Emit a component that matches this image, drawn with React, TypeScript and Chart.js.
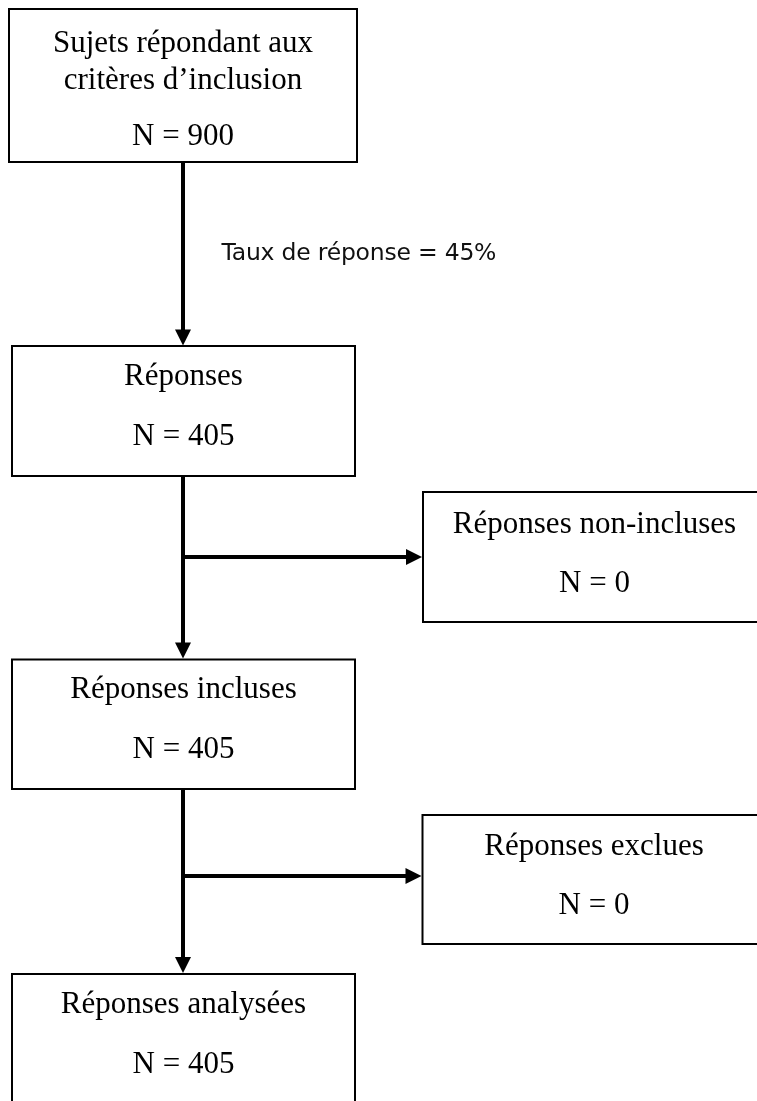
import React, { useEffect, useRef } from "react";
import { Chart, registerables } from "chart.js";

Chart.register(...registerables);

// ---- Data ----
const STEP_LABELS: string[][] = [
  ["Sujets répondant aux", "critères d’inclusion"],
  ["Réponses"],
  ["Réponses non-incluses"],
  ["Réponses incluses"],
  ["Réponses exclues"],
  ["Réponses analysées"],
];
const STEP_N: number[] = [900, 405, 0, 405, 0, 405];
const RESPONSE_RATE_LABEL = "Taux de réponse";
const RESPONSE_RATE: number = 45;

// ---- Layout (chart coordinate space, 0..757 x 0..1101) ----
const W = 757;
const H = 1101;
const BOXES = [
  { x0: 9, y0: 9, x1: 357, y1: 162, cx: 183, lines: [52, 88.5], nLine: 145 },
  { x0: 12, y0: 346, x1: 355, y1: 476, cx: 183.5, lines: [385], nLine: 445 },
  { x0: 423, y0: 492, x1: 775, y1: 622, cx: 594.5, lines: [533], nLine: 592 },
  { x0: 12, y0: 659.5, x1: 355, y1: 789, cx: 183.5, lines: [698], nLine: 758 },
  { x0: 422.5, y0: 815, x1: 775, y1: 944, cx: 594, lines: [855], nLine: 914 },
  { x0: 12, y0: 974, x1: 355, y1: 1130, cx: 183.5, lines: [1013], nLine: 1073 },
];
const CONNECTORS = [
  { from: [183, 162], to: [183, 345.5] },
  { from: [183, 476], to: [183, 658.5] },
  { from: [183, 557], to: [422, 557] },
  { from: [183, 789], to: [183, 973] },
  { from: [183, 876], to: [421.5, 876] },
];
const RATE_POS = { x: 221.5, y: 260, width: 275 };
const HEAD_LEN = 16;
const HEAD_HALF = 8;
const SHAFT_W = 4;
const SERIF = '31px "Liberation Serif", "Times New Roman", serif';
const SANS = '23.5px "DejaVu Sans", "Open Sans", sans-serif';

function shaftEnd(c: { from: number[]; to: number[] }) {
  const dx = Math.sign(c.to[0] - c.from[0]);
  const dy = Math.sign(c.to[1] - c.from[1]);
  return { x: c.to[0] - dx * (HEAD_LEN - 2), y: c.to[1] - dy * (HEAD_LEN - 2) };
}

const flowPlugin = {
  id: "flowPlugin",
  beforeDatasetsDraw(chart: any) {
    const { ctx, scales } = chart;
    const xs = scales.x;
    const ys = scales.y;
    ctx.save();
    BOXES.forEach((b, i) => {
      const px0 = xs.getPixelForValue(b.x0);
      const px1 = xs.getPixelForValue(b.x1);
      const py0 = ys.getPixelForValue(b.y0);
      const py1 = ys.getPixelForValue(b.y1);
      ctx.fillStyle = "#ffffff";
      ctx.fillRect(px0, py0, px1 - px0, py1 - py0);
      ctx.strokeStyle = "#000000";
      ctx.lineWidth = 2;
      ctx.strokeRect(px0, py0, px1 - px0, py1 - py0);
      ctx.fillStyle = "#000000";
      ctx.font = SERIF;
      ctx.textAlign = "center";
      ctx.textBaseline = "alphabetic";
      const cx = xs.getPixelForValue(b.cx);
      STEP_LABELS[i].forEach((t, li) => {
        ctx.fillText(t, cx, ys.getPixelForValue(b.lines[li]));
      });
      ctx.fillText(`N = ${STEP_N[i]}`, cx, ys.getPixelForValue(b.nLine));
    });
    // response rate label, fitted to its measured width
    const label = `${RESPONSE_RATE_LABEL} = ${RESPONSE_RATE}%`;
    ctx.font = SANS;
    ctx.textAlign = "left";
    ctx.fillStyle = "#111111";
    const m = ctx.measureText(label).width;
    const spacing = (RATE_POS.width - m) / (label.length - 1);
    if ("letterSpacing" in ctx) (ctx as any).letterSpacing = `${spacing.toFixed(2)}px`;
    ctx.fillText(label, xs.getPixelForValue(RATE_POS.x), ys.getPixelForValue(RATE_POS.y));
    ctx.restore();
  },
  afterDatasetsDraw(chart: any) {
    const { ctx, scales } = chart;
    const xs = scales.x;
    const ys = scales.y;
    ctx.save();
    ctx.fillStyle = "#000000";
    CONNECTORS.forEach((c) => {
      const tx = xs.getPixelForValue(c.to[0]);
      const ty = ys.getPixelForValue(c.to[1]);
      const dx = Math.sign(c.to[0] - c.from[0]);
      const dy = Math.sign(c.to[1] - c.from[1]);
      const bx = tx - dx * HEAD_LEN;
      const by = ty - dy * HEAD_LEN;
      ctx.beginPath();
      ctx.moveTo(tx, ty);
      ctx.lineTo(bx - dy * HEAD_HALF, by + dx * HEAD_HALF);
      ctx.lineTo(bx + dy * HEAD_HALF, by - dx * HEAD_HALF);
      ctx.closePath();
      ctx.fill();
    });
    ctx.restore();
  },
};

export default function App() {
  const ref = useRef<HTMLCanvasElement | null>(null);
  useEffect(() => {
    document.body.style.margin = "0";
    if (!ref.current) return;
    const chart = new Chart(ref.current, {
      type: "scatter",
      data: {
        datasets: CONNECTORS.map((c) => {
          const e = shaftEnd(c);
          return {
            data: [
              { x: c.from[0], y: c.from[1] },
              { x: e.x, y: e.y },
            ],
            showLine: true,
            borderColor: "#000000",
            borderWidth: SHAFT_W,
            pointRadius: 0,
            borderCapStyle: "butt" as const,
          };
        }),
      },
      options: {
        animation: false,
        responsive: false,
        devicePixelRatio: 1,
        layout: { padding: 0 },
        plugins: { legend: { display: false }, tooltip: { enabled: false } },
        events: [],
        scales: {
          x: { type: "linear", min: 0, max: W, display: false },
          y: { type: "linear", min: 0, max: H, reverse: true, display: false },
        },
      },
      plugins: [flowPlugin],
    });
    return () => chart.destroy();
  }, []);
  return (
    <div style={{ position: "absolute", left: 0, top: 0, width: W, height: H, background: "#fff" }}>
      <canvas ref={ref} width={W} height={H} style={{ display: "block" }} />
    </div>
  );
}
